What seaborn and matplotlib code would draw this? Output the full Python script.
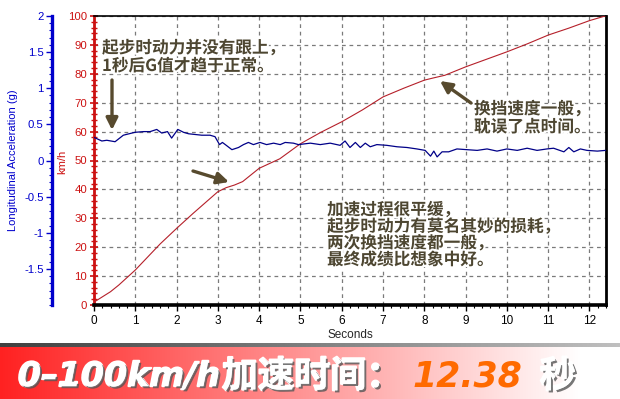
import numpy as np
import pandas as pd
import matplotlib
matplotlib.use("Agg")
import matplotlib.pyplot as plt
import matplotlib.patheffects as pe
from matplotlib.ticker import MultipleLocator
import seaborn as sns

# ---------------- data ----------------
speed_t = [0, 0.2, 0.4, 0.6, 0.8, 1.0, 1.2, 1.4, 1.6, 1.8, 2.0, 2.2, 2.4, 2.6, 2.8,
           3.0, 3.2, 3.4, 3.6, 3.8, 4.0, 4.5, 5.0, 5.5, 6.0, 6.5, 7.0, 7.5, 8.0,
           8.2, 8.5, 9.0, 9.5, 10.0, 10.5, 11.0, 11.5, 12.0, 12.38]
speed_kmh = [1.0, 2.8, 4.6, 6.9, 9.5, 12.1, 15.1, 18.1, 21.1, 23.8, 26.5, 29.1, 31.7, 34.2, 36.7,
             39.2, 40.6, 41.5, 42.7, 45.0, 47.3, 50.6, 55.8, 59.8, 63.4, 67.5, 72.0, 75.0, 77.8,
             78.5, 79.5, 82.4, 85.0, 87.6, 90.4, 93.4, 95.8, 98.4, 100.0]

accel_t = [0.0, 0.19, 0.31, 0.51, 0.71, 0.99, 1.2, 1.36, 1.52, 1.64, 1.78, 1.88, 2.03, 2.17,
           2.29, 2.45, 2.61, 2.81, 2.93, 3.04, 3.11, 3.18, 3.34, 3.5, 3.62, 3.74, 3.86, 4.02,
           4.18, 4.35, 4.51, 4.63, 4.83, 4.95, 5.24, 5.48, 5.72, 5.96, 6.08, 6.2, 6.33, 6.45,
           6.57, 6.69, 6.85, 7.09, 7.34, 7.58, 7.82, 8.02, 8.15, 8.23, 8.31, 8.43, 8.59, 8.79,
           9.03, 9.28, 9.52, 9.76, 10.0, 10.25, 10.49, 10.73, 10.97, 11.13, 11.38, 11.5, 11.62,
           11.78, 11.94, 12.19, 12.39]
accel_g = [0.32, 0.27, 0.28, 0.26, 0.35, 0.39, 0.40, 0.40, 0.43, 0.38, 0.40, 0.31, 0.43, 0.39,
           0.37, 0.36, 0.35, 0.35, 0.33, 0.22, 0.25, 0.22, 0.15, 0.18, 0.22, 0.25, 0.22, 0.25,
           0.22, 0.24, 0.22, 0.25, 0.24, 0.22, 0.24, 0.22, 0.24, 0.21, 0.27, 0.18, 0.25, 0.18,
           0.24, 0.19, 0.22, 0.21, 0.19, 0.18, 0.16, 0.14, 0.06, 0.13, 0.05, 0.12, 0.12, 0.16,
           0.15, 0.14, 0.16, 0.13, 0.16, 0.14, 0.17, 0.14, 0.16, 0.17, 0.12, 0.18, 0.12,
           0.16, 0.14, 0.13, 0.14]

x_ticks = list(range(0, 13))
speed_ticks = list(range(0, 101, 10))
accel_ticks = [-1.5, -1, -0.5, 0, 0.5, 1, 1.5, 2]

note1 = "起步时动力并没有跟上，\n1秒后G值才趋于正常。"
note2 = "换挡速度一般，\n耽误了点时间。"
note3 = "加速过程很平缓，\n起步时动力有莫名其妙的损耗，\n两次换挡速度都一般，\n最终成绩比想象中好。"
banner_latin = "0–100km/h"
banner_cjk = "加速时间："
banner_time = "12.38"
banner_unit = "秒"

# ---------------- style ----------------
sns.set_style("white")
plt.rcParams['font.family'] = ['Liberation Sans', 'Noto Sans CJK SC', 'DejaVu Sans']

W, H = 620, 399
fig = plt.figure(figsize=(W / 100, H / 100), dpi=100)
fig.patch.set_facecolor('white')

L, R, T, B = 94, 606, 16, 305
ax = fig.add_axes([L / W, 1 - B / H, (R - L) / W, (B - T) / H])
ax.set_facecolor('white')

RED = '#cc1111'
BLUE = '#0000cc'
LINE_RED = '#b5202a'
LINE_BLUE = '#000088'
NOTE = '#4d4631'

df_s = pd.DataFrame({'t': speed_t, 'v': speed_kmh})
sns.lineplot(data=df_s, x='t', y='v', ax=ax, color=LINE_RED, lw=0.8, zorder=3)
ax.set_xlim(0, 12.4)
ax.set_ylim(0, 100)
ax.set_xticks(x_ticks)
ax.set_yticks(speed_ticks)
ax.xaxis.set_minor_locator(MultipleLocator(0.2))
ax.yaxis.set_minor_locator(MultipleLocator(2))
ax.grid(True, which='major', color='#7a7a7a', ls=(0, (3, 3)), lw=0.9)
ax.set_axisbelow(True)

for s in ['top', 'right']:
    ax.spines[s].set_color('black')
ax.spines['top'].set_linewidth(1.2)
ax.spines['right'].set_linewidth(2)
ax.spines['bottom'].set_color('black')
ax.spines['bottom'].set_linewidth(2.6)
ax.spines['left'].set_color(RED)
ax.spines['left'].set_linewidth(2)

ax.tick_params(axis='x', which='major', direction='out', length=4, width=1, colors='black',
               labelsize=8.5, pad=3, bottom=True)
ax.tick_params(axis='x', which='minor', direction='out', length=2.5, width=0.8, colors='black',
               bottom=True)
ax.tick_params(axis='y', which='major', direction='inout', length=6, width=1.2, colors=RED,
               labelsize=8.2, labelcolor=RED, left=True, pad=2)
ax.tick_params(axis='y', which='minor', direction='inout', length=4, width=1, colors=RED,
               left=True)

# acceleration axis
ax2 = ax.twinx()
df_a = pd.DataFrame({'t': accel_t, 'g': accel_g})
sns.lineplot(data=df_a, x='t', y='g', ax=ax2, color=LINE_BLUE, lw=0.9, zorder=3)
ax2.set_ylim(-2, 2)
ax2.set_xlim(0, 12.4)
ax2.set_yticks(accel_ticks)
ax2.set_yticklabels([f"{v:g}" for v in accel_ticks])
ax2.yaxis.set_minor_locator(MultipleLocator(0.1))
ax2.yaxis.tick_left()
ax2.yaxis.set_label_position('left')
for s in ['top', 'right', 'bottom']:
    ax2.spines[s].set_visible(False)
ax2.spines['left'].set_position(('axes', -(L - 52) / (R - L)))
ax2.spines['left'].set_color(BLUE)
ax2.spines['left'].set_linewidth(2.4)
ax2.tick_params(axis='y', which='major', direction='out', length=4, width=1, colors=BLUE,
                labelsize=8.2, labelcolor=BLUE, pad=2)
ax2.tick_params(axis='y', which='minor', direction='out', length=2, width=0.8, colors=BLUE)
ax2.set_ylabel('Longitudinal Acceleration (g)', fontsize=8, color=BLUE)
ax2.yaxis.set_label_coords((18 - L) / (R - L), 0.5)
ax2.set_xlabel('')
ax.set_xlabel('Seconds', fontsize=8.5, labelpad=2)
ax.set_ylabel('')

# km/h label placed as plain text between the two axes
fig.text(62 / W, 1 - 162 / H, 'km/h', rotation=90, color=RED, fontsize=8,
         ha='center', va='center')

# ---------------- annotations ----------------
def px2data(x, y):
    return (x - L) / (R - L) * 12.4, (B - y) / (B - T) * 100

stroke = [pe.withStroke(linewidth=3, foreground='white')]
txt_kw = dict(color=NOTE, fontsize=12, family=['Noto Sans CJK SC', 'DejaVu Sans'],
              fontweight='bold', ha='left', va='top', linespacing=1.0,
              path_effects=stroke, zorder=6)
ax.text(*px2data(102, 39), note1, **txt_kw)
ax.text(*px2data(474, 100), note2, **txt_kw)
ax.text(*px2data(327, 201), note3, **dict(txt_kw, linespacing=0.9))

arrow_kw = dict(arrowstyle='-|>,head_length=0.7,head_width=0.35', color='#574a2e', lw=2.4,
                shrinkA=0, shrinkB=0)
ax.annotate('', xy=px2data(112, 130), xytext=px2data(112, 80), arrowprops=arrow_kw, zorder=6)
ax.annotate('', xy=px2data(229, 182), xytext=px2data(193, 171), arrowprops=arrow_kw, zorder=6)
ax.annotate('', xy=px2data(440, 81), xytext=px2data(471, 103), arrowprops=arrow_kw, zorder=6)

# ---------------- banner ----------------
shadow_ax = fig.add_axes([0, 1 - 348 / H, 1, 5 / H])
shadow_ax.imshow(np.linspace(0.25, 0.75, 256)[None, :], cmap='gray', aspect='auto',
                 extent=[0, 1, 0, 1], vmin=0, vmax=1)
shadow_ax.axis('off')

ban_ax = fig.add_axes([0, 0, 1, (H - 347) / H])
grad = np.ones((1, 620, 3))
frac = np.clip(np.arange(620) / 580.0, 0, 1)
grad[0, :, 0] = 1.0
grad[0, :, 1] = 0.13 + 0.87 * frac
grad[0, :, 2] = 0.13 + 0.87 * frac
ban_ax.imshow(grad, aspect='auto', extent=[0, 1, 0, 1])
ban_ax.set_xlim(0, 1)
ban_ax.set_ylim(0, 1)
ban_ax.axis('off')

shadow = [pe.withStroke(linewidth=1.5, foreground='white'),
          pe.withSimplePatchShadow(offset=(1.5, -1.5), shadow_rgbFace='#555555', alpha=0.8),
          pe.Normal()]
cy = 0.43
ban_ax.text(18 / W, cy, banner_latin, color='white', fontsize=24, fontweight='bold',
            style='italic', family=['DejaVu Sans'], ha='left', va='center', path_effects=shadow)
ban_ax.text(222 / W, cy, banner_cjk, color='white', fontsize=26, fontweight='black',
            family=['Noto Sans CJK SC'], ha='left', va='center', path_effects=shadow)
ban_ax.text(412 / W, cy, banner_time, color='#ff6a00', fontsize=25, fontweight='bold',
            style='italic', family=['DejaVu Sans'], ha='left', va='center')
ban_ax.text(540 / W, cy, banner_unit, color='white', fontsize=26, fontweight='black',
            family=['Noto Sans CJK SC'], ha='left', va='center', path_effects=shadow)

fig.savefig('out.png', dpi=100)
